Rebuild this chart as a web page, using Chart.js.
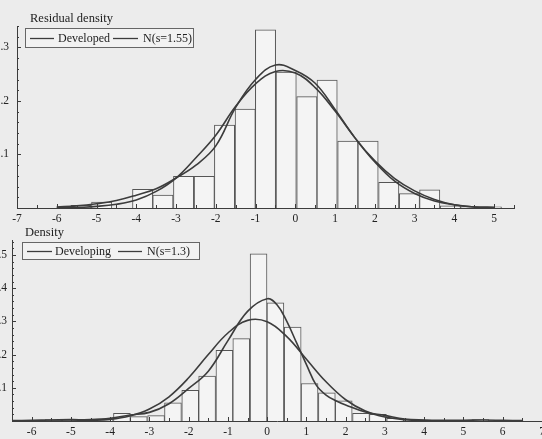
<!DOCTYPE html>
<html>
<head>
<meta charset="UTF-8">
<title>Residual density</title>
<script src="https://cdn.jsdelivr.net/npm/chart.js"></script>
<style>
  html, body { margin: 0; padding: 0; background: #ececec; }
  canvas { display: block; }
</style>
</head>
<body>
<canvas id="topChart" width="542" height="225"></canvas>
<canvas id="bottomChart" width="542" height="214"></canvas>
<script>
// ---- top panel: developed ----
const topTicksX = [-7, -6, -5, -4, -3, -2, -1, 0, 1, 2, 3, 4, 5];
const topTicksY = [0.1, 0.2, 0.3];
const topBinCenters = [-5.39, -4.87, -4.36, -3.84, -3.33, -2.81, -2.29, -1.78, -1.26, -0.75, -0.23,
  0.29, 0.80, 1.32, 1.83, 2.35, 2.87, 3.38, 3.90, 4.41, 4.93];
const topBinHeights = [0.005, 0.011, 0.0, 0.035, 0.024, 0.059, 0.059, 0.155, 0.185, 0.333, 0.254,
  0.208, 0.239, 0.125, 0.125, 0.048, 0.027, 0.034, 0.004, 0.002, 0.002];
const topCurveX = [-6, -5.5, -5, -4.5, -4, -3.5, -3, -2.5, -2, -1.5, -1, -0.5, 0,
  0.5, 1, 1.5, 2, 2.5, 3, 3.5, 4, 4.5, 5];
const developed = [0.002, 0.004, 0.008, 0.014, 0.024, 0.036, 0.056, 0.080, 0.116, 0.188, 0.240, 0.267, 0.257,
  0.233, 0.184, 0.131, 0.088, 0.055, 0.032, 0.016, 0.006, 0.002, 0.001];
const normal155 = [0.001, 0.001, 0.003, 0.007, 0.015, 0.031, 0.056, 0.094, 0.136, 0.190, 0.232, 0.255, 0.252,
  0.225, 0.181, 0.131, 0.086, 0.050, 0.027, 0.013, 0.006, 0.002, 0.001];

// ---- bottom panel: developing ----
const botTicksX = [-6, -5, -4, -3, -2, -1, 0, 1, 2, 3, 4, 5, 6, 7];
const botTicksY = [0.1, 0.2, 0.3, 0.4, 0.5];
const botBinCenters = [-5.88, -5.44, -5.01, -4.57, -4.14, -3.70, -3.27, -2.83, -2.40, -1.96, -1.53, -1.09,
  -0.66, -0.22, 0.21, 0.65, 1.08, 1.52, 1.95, 2.39, 2.82, 3.26, 3.69, 4.13, 4.56, 5.00, 5.43, 5.87, 6.30];
const botBinHeights = [0.002, 0.004, 0.004, 0.003, 0.006, 0.023, 0.013, 0.016, 0.055, 0.092, 0.135, 0.213,
  0.248, 0.503, 0.356, 0.283, 0.113, 0.085, 0.061, 0.023, 0.020, 0.008, 0.003, 0.002, 0.001, 0.001, 0.004, 0.001, 0.002];
const developingX = [-6.5, -6, -5.5, -5, -4.5, -4, -3.5, -3, -2.5, -2, -1.5, -1, -0.5, 0, 0.25, 0.5, 0.75,
  1, 1.25, 1.5, 1.75, 2, 2.5, 3, 3.5, 4, 4.5, 5, 5.5, 6, 6.5];
const developing = [0.001, 0.002, 0.003, 0.004, 0.004, 0.008, 0.018, 0.026, 0.052, 0.098, 0.150, 0.242, 0.330, 0.368, 0.350, 0.300, 0.235,
  0.170, 0.108, 0.078, 0.061, 0.048, 0.027, 0.017, 0.006, 0.003, 0.002, 0.002, 0.003, 0.002, 0.001];
const normal13X = [-6, -5.5, -5, -4.5, -4, -3.5, -3, -2.5, -2, -1.5, -1, -0.5, 0, 0.5, 1, 1.5, 2, 2.5, 3, 3.5, 4, 4.5, 5];
const normal13 = [0.000, 0.000, 0.000, 0.002, 0.005, 0.015, 0.036, 0.073, 0.130, 0.200, 0.265, 0.303, 0.299,
  0.254, 0.186, 0.118, 0.064, 0.030, 0.012, 0.004, 0.001, 0.000, 0.000];

Chart.defaults.font.family = '"Liberation Serif", serif';
Chart.defaults.font.size = 11.5;
Chart.defaults.color = '#222';

const ink = '#3c3c3c';

const decor = {
  id: 'decor',
  afterDraw(chart, args, o) {
    const { ctx, scales: { x, y }, chartArea: a } = chart;
    ctx.save();
    ctx.strokeStyle = ink;
    ctx.lineWidth = 1;
    // little inward ticks on the x axis, every half unit
    for (let k = Math.ceil(x.min * 2); k <= Math.floor(x.max * 2); k++) {
      const px = Math.round(x.getPixelForValue(k / 2)) + 0.5;
      ctx.beginPath();
      ctx.moveTo(px, a.bottom);
      ctx.lineTo(px, a.bottom - (k % 2 === 0 ? 4 : 3));
      ctx.stroke();
    }
    // inward ticks on the y axis, every .02
    for (let k = 1; k * 0.02 <= y.max; k++) {
      const py = Math.round(y.getPixelForValue(k * 0.02)) + 0.5;
      ctx.beginPath();
      ctx.moveTo(a.left, py);
      ctx.lineTo(a.left + (k % 5 === 0 ? 4 : 2), py);
      ctx.stroke();
    }
    // title
    ctx.fillStyle = '#222';
    ctx.font = '12.5px "Liberation Serif", serif';
    ctx.textBaseline = 'middle';
    ctx.fillText(o.title, o.titleX, o.titleY);
    // legend box
    const b = o.box;
    ctx.fillStyle = '#f2f2f2';
    ctx.fillRect(b[0], b[1], b[2], b[3]);
    ctx.strokeStyle = '#666';
    ctx.strokeRect(b[0] + 0.5, b[1] + 0.5, b[2], b[3]);
    const my = b[1] + b[3] / 2 + 1;
    ctx.font = '12px "Liberation Serif", serif';
    o.items.forEach(it => {
      ctx.strokeStyle = ink;
      ctx.lineWidth = 1.3;
      ctx.beginPath();
      ctx.moveTo(it.x0, my);
      ctx.lineTo(it.x1, my);
      ctx.stroke();
      ctx.fillStyle = '#222';
      ctx.fillText(it.label, it.tx, my);
    });
    ctx.restore();
  }
};

function pts(xs, ys) {
  return xs.map((v, i) => ({ x: v, y: ys[i] }));
}

function makeChart(id, cfg) {
  new Chart(document.getElementById(id), {
    data: {
      datasets: [
        {
          type: 'bar',
          data: pts(cfg.binCenters, cfg.binHeights),
          backgroundColor: '#f4f4f4',
          borderColor: '#555',
          borderWidth: 1,
          barPercentage: 1,
          categoryPercentage: 1,
          order: 3
        },
        {
          type: 'line',
          label: cfg.names[0],
          data: pts(cfg.curveAX, cfg.curveA),
          borderColor: ink,
          borderWidth: 1.6,
          pointRadius: 0,
          tension: 0.4,
          order: 1
        },
        {
          type: 'line',
          label: cfg.names[1],
          data: pts(cfg.curveBX, cfg.curveB),
          borderColor: ink,
          borderWidth: 1.6,
          pointRadius: 0,
          tension: 0.4,
          order: 2
        }
      ]
    },
    options: {
      responsive: false,
      animation: false,
      layout: { padding: cfg.padding },
      plugins: {
        legend: { display: false },
        tooltip: { enabled: false },
        decor: cfg.decor
      },
      scales: {
        x: {
          type: 'linear',
          min: cfg.xMin,
          max: cfg.xMax,
          offset: false,
          grid: { display: false, drawTicks: false },
          border: { display: true, color: ink, width: 1 },
          ticks: { padding: cfg.xPad, maxRotation: 0, autoSkip: false },
          afterBuildTicks: s => { s.ticks = cfg.ticksX.map(v => ({ value: v })); },
          afterFit: s => { s.height = cfg.xAxisH; s.paddingLeft = 0; s.paddingRight = 0; }
        },
        y: {
          min: 0,
          max: cfg.yMax,
          grid: { display: false, drawTicks: false },
          border: { display: true, color: ink, width: 1 },
          ticks: {
            padding: cfg.yPad,
            callback: v => String(Math.round(v * 10) / 10).replace(/^0/, '')
          },
          afterBuildTicks: s => { s.ticks = cfg.ticksY.map(v => ({ value: v })); },
          afterFit: s => { s.width = cfg.yAxisW; s.paddingTop = 0; s.paddingBottom = 0; }
        }
      }
    },
    plugins: [decor]
  });
}

makeChart('topChart', {
  binCenters: topBinCenters, binHeights: topBinHeights,
  curveAX: topCurveX, curveA: developed,
  curveBX: topCurveX, curveB: normal155,
  names: ['Developed', 'N(s=1.55)'],
  ticksX: topTicksX, ticksY: topTicksY,
  xMin: -7, xMax: 5.5, yMax: 0.34,
  padding: { top: 26, right: 28, bottom: 0, left: 0 },
  xAxisH: 17, yAxisW: 17, yPad: 8, xPad: 4,
  decor: {
    title: 'Residual density', titleX: 30, titleY: 19,
    box: [25, 28, 168, 19],
    items: [
      { x0: 30, x1: 54, tx: 58, label: 'Developed' },
      { x0: 113, x1: 138, tx: 143, label: 'N(s=1.55)' }
    ]
  }
});

makeChart('bottomChart', {
  binCenters: botBinCenters, binHeights: botBinHeights,
  curveAX: developingX, curveA: developing,
  curveBX: normal13X, curveB: normal13,
  names: ['Developing', 'N(s=1.3)'],
  ticksX: botTicksX, ticksY: botTicksY,
  xMin: -6.5, xMax: 7, yMax: 0.545,
  padding: { top: 15, right: 0, bottom: 0, left: 0 },
  xAxisH: 18, yAxisW: 12, yPad: 5, xPad: 4,
  decor: {
    title: 'Density', titleX: 25, titleY: 8,
    box: [22, 17, 177, 17],
    items: [
      { x0: 27, x1: 52, tx: 55, label: 'Developing' },
      { x0: 118, x1: 142, tx: 147, label: 'N(s=1.3)' }
    ]
  }
});
</script>
</body>
</html>
